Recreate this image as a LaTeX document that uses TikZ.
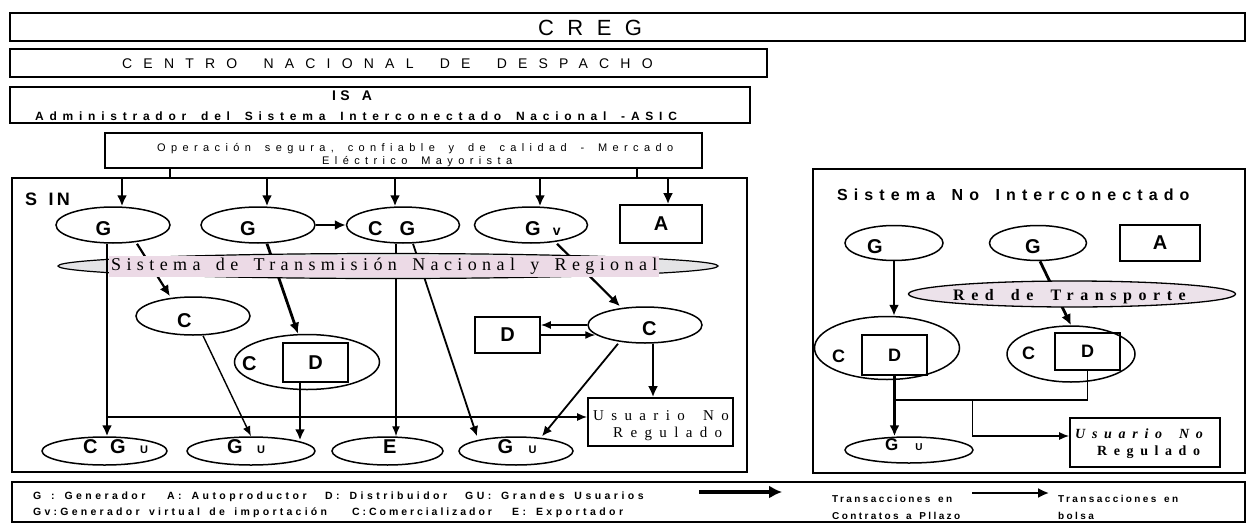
\documentclass[tikz,border=0pt]{standalone}
\usepackage{fontspec}
\setmainfont{Liberation Sans}
\newfontfamily\serifn{Liberation Serif}
\usetikzlibrary{shapes.geometric,arrows.meta,calc}
\definecolor{trpink}{RGB}{236,218,230}
\definecolor{tipgray}{RGB}{228,228,230}
\definecolor{redfill}{RGB}{236,226,234}
\newcommand\lsp[2]{{\addfontfeatures{LetterSpace=#1}\spaceskip=\dimexpr\fontdimen2\font+0.01em*#1\relax #2}}
\newcommand\fz[1]{\fontsize{#1}{#1}\selectfont}
\begin{document}
\begin{tikzpicture}[x=1pt,y=-1pt,
  box/.style={draw,line width=1.7pt,rectangle,inner sep=0pt},
  dbox/.style={box,font=\fz{20}\bfseries},
  ell/.style={draw,line width=1.5pt,ellipse,inner sep=0pt},
  txt/.style={inner sep=0pt,anchor=base west},
  lab/.style={inner sep=0pt,anchor=base west,font=\fz{20}\bfseries},
  lg/.style={inner sep=0pt,anchor=base west,font=\fz{10.5}\bfseries},
  lgr/.style={inner sep=0pt,anchor=base west,font=\fz{10}\bfseries},
  thk/.style={line width=2.8pt,-{Latex[length=11pt,width=10pt]}},
  med/.style={line width=2.2pt,-{Latex[length=11pt,width=10pt]}},
  thn/.style={line width=1.4pt,-{Latex[length=10pt,width=8pt]}},
  thnb/.style={line width=1.8pt,-{Latex[length=10pt,width=9pt]}},
  ln/.style={line width=1.4pt}]
\useasboundingbox (0,0) rectangle (1248,525);
\fill[white] (0,0) rectangle (1248,525);

% ---------- top boxes
\node[box,minimum width=1235pt,minimum height=28pt] (creg) at (627.5,27) {};
\node[txt] (cregt) at (538,35) {\fz{22}\lsp{61}{CREG}};
\node[box,minimum width=757pt,minimum height=28pt] (centro) at (388.5,63) {};
\node[txt] (centrot) at (122,68.5) {\fz{14}\lsp{80}{CENTRO NACIONAL DE DESPACHO}};
\node[box,minimum width=740pt,minimum height=36pt] (isa) at (380,105) {};
\node[txt] (isat) at (332,100) {\fz{14}\bfseries\lsp{30}{IS A}};
\node[txt] (asic) at (35,120) {\fz{12}\bfseries\lsp{48}{Administrador del Sistema Interconectado Nacional -ASIC}};
\node[box,minimum width=597pt,minimum height=35pt] (op) at (403.5,150.5) {};
\node[txt] (op1) at (157,151) {\fz{11}\lsp{49}{Operación segura, confiable y de calidad - Mercado}};
\node[txt] (op2) at (322,164) {\fz{11}\lsp{49}{Eléctrico Mayorista}};

% ---------- SIN
\node[box,minimum width=735pt,minimum height=294pt] (sin) at (379.5,325) {};
\node[txt] (sint) at (25,205) {\fz{18}\bfseries\lsp{18}{S IN}};
\coordinate (t1) at ([xshift=-233.5pt]op.south);
\coordinate (t2) at ([xshift=233.5pt]op.south);
\draw[ln] (t1) -- (t1 |- sin.north);
\draw[ln] (t2) -- (t2 |- sin.north);

\node[ell,minimum width=114pt,minimum height=36pt] (g1) at (113,225) {};
\node[ell,minimum width=114pt,minimum height=36pt] (g2) at (258,225) {};
\node[ell,minimum width=113pt,minimum height=36pt] (cg) at (403,225) {};
\node[ell,minimum width=113pt,minimum height=36pt] (gv) at (531,225) {};
\node[dbox,minimum width=82pt,minimum height=38pt] (a1) at (661,224) {A};
\node[lab] (g1l) at (95.5,235) {G};
\node[lab] (g2l) at (240,235) {G};
\node[lab] (cgl) at (368,235) {C\hspace{17pt}G};
\node[lab] (gvl) at (525,235) {G\hspace{12pt}{\fz{14}v}};

\foreach \n/\dx in {g1/9,g2/9,cg/-8,gv/9,a1/7}{
  \coordinate (tmp) at ([xshift=\dx pt]\n.north);
  \draw[med] (tmp |- sin.north) -- (tmp);
}

\node[ell,minimum width=114pt,minimum height=38pt] (c1) at (193,316) {};
\node[lab] (c1l) at (177,327) {C};
\node[ell,minimum width=145pt,minimum height=55pt] (cd1) at (307,362) {};
\node[lab] (cd1c) at (242,370) {C};
\node[dbox,minimum width=65pt,minimum height=39pt] (d1) at (315.5,362.5) {D};
\node[dbox,minimum width=65pt,minimum height=36pt] (d2) at (507.5,335) {D};
\node[ell,minimum width=114pt,minimum height=36pt] (c2) at (645,325) {};
\node[lab] (c2l) at (642,335) {C};
\node[box,minimum width=145pt,minimum height=48pt] (unr1) at (660.5,422) {};
\node[txt] (unr1a) at (593,420) {\serifn\fz{15}\lsp{49}{Usuario No}};
\node[txt] (unr1b) at (613,437) {\serifn\fz{15}\lsp{49}{Regulado}};

\node[ell,minimum width=125pt,minimum height=28pt] (cgu) at (104.5,451) {};
\node[lab] (cgul) at (83,453) {C\hspace{12.6pt}G\hspace{14.4pt}{\fz{11}U}};
\node[ell,minimum width=128pt,minimum height=28pt] (gu1) at (251,451) {};
\node[lab] (gu1l) at (227,453) {G\hspace{14.4pt}{\fz{11}U}};
\node[ell,minimum width=111pt,minimum height=28pt] (e1) at (387.5,451) {};
\node[lab] (e1l) at (383,453) {E};
\node[ell,minimum width=114pt,minimum height=28pt] (gu2) at (516,451) {};
\node[lab] (gu2l) at (497.5,453) {G\hspace{15.4pt}{\fz{11}U}};

% connectors SIN
\coordinate (v1) at ([xshift=-6pt]g1.south);
\coordinate (h1) at ($(v1 |- unr1.west)+(0,-5)$);
\draw[thn] (h1) -- (h1 -| unr1.west);
\draw[med] ([xshift=24pt]g1.south) -- ([xshift=-23pt]c1.north);
\draw[thk] ([xshift=9pt]g2.south) -- ([xshift=-9pt]cd1.north);
\draw[med] (g2.east) -- (cg.west);
\draw[thn] ([xshift=10pt]c1.south) -- (gu1.north);
\coordinate (v2) at ([xshift=-15.5pt]d1.south);
\coordinate (v2e) at ($(v2 |- gu1.north)+(0,4)$);
\draw[med] (v2) -- (v2e);
\coordinate (v3) at ([xshift=-7pt]cg.south);
\draw[thn] (v3) -- (v3 |- e1.north);
\draw[thnb] ([xshift=10pt]cg.south) -- ([xshift=-39pt]gu2.north);
\draw[med] ([xshift=26pt]gv.south) -- ([xshift=-25pt]c2.north);
\draw[thn] (c2.west) -- (c2.west -| d2.east);
\draw[thn] (d2.east) -- ($(d2.east -| c2.west)+(8,0)$);
\draw[thnb] ([xshift=-27pt]c2.south) -- ([xshift=26pt]gu2.north);
\coordinate (v4) at ([xshift=8pt]c2.south);
\draw[med] (v4) -- (v4 |- unr1.north);

% transmission ellipse
\node[draw,line width=1.2pt,ellipse,fill=tipgray,minimum width=660pt,minimum height=25pt,inner sep=0pt] (tr) at (388,266) {};
\draw[thk] (v1) -- (v1 |- cgu.north);
\node[anchor=west,inner xsep=2pt,inner ysep=0pt,fill=trpink,minimum height=21pt] (trt) at (109,266) {\serifn\fz{18}\lsp{30}{Sistema de Transmisión Nacional y Regional}};

% ---------- Sistema No Interconectado
\node[box,minimum width=432pt,minimum height=304pt] (sni) at (1029,321) {};
\node[txt] (snit) at (837,200) {\fz{16}\bfseries\lsp{38}{Sistema No Interconectado}};
\node[ell,minimum width=98pt,minimum height=35pt] (gL) at (894,243) {};
\node[lab] (gLl) at (867,253) {G};
\node[ell,minimum width=97pt,minimum height=35pt] (gR) at (1038,243) {};
\node[lab] (gRl) at (1025,253) {G};
\node[dbox,minimum width=80pt,minimum height=36pt] (aR) at (1160,243) {A};
\node[ell,minimum width=145pt,minimum height=63pt] (cdL) at (887,348) {};
\node[lab,font=\fz{18}\bfseries] (cdLc) at (832,362) {C};
\node[box,font=\fz{18}\bfseries,minimum width=65pt,minimum height=40pt] (dL) at (894.5,355) {D};
\node[ell,minimum width=128pt,minimum height=56pt] (cdR) at (1071,354) {};
\node[lab,font=\fz{18}\bfseries] (cdRc) at (1022,359) {C};
\node[box,font=\fz{18}\bfseries,minimum width=65pt,minimum height=37pt] (dR) at (1087.5,351.5) {D};
\node[ell,minimum width=128pt,minimum height=26pt] (guR) at (909,450) {};
\node[lab,font=\fz{17}\bfseries] (guRl) at (885,450) {G\hspace{17pt}{\fz{10}U}};
\node[box,minimum width=150pt,minimum height=49pt] (unr2) at (1145,442.5) {};
\node[txt] (unr2a) at (1075,438) {\serifn\fz{14}\bfseries\itshape\lsp{48}{Usuario No}};
\node[txt] (unr2b) at (1097,455) {\serifn\fz{14}\bfseries\lsp{47}{Regulado}};

\draw[thk] ([xshift=2pt]gR.south) -- (cdR.north);
\node[draw,line width=1.3pt,ellipse,fill=redfill,minimum width=327pt,minimum height=26pt,inner sep=0pt] (red) at (1072,294) {};
\node[txt] (redt) at (953,300) {\serifn\fz{16}\bfseries\lsp{41}{Red de Transporte}};
\draw[thk] (gL.south) -- (gL.south |- cdL.north);
\draw[thk] (dL.south) -- (dL.south |- guR.north);
\coordinate (jL) at ($(dL.south)+(0,24)$);
\draw[ln] (dR.south) |- (jL);
\coordinate (jM) at ($(jL)+(78,0)$);
\draw[thn] (jM) |- ($(unr2.west)+(0,-6.5)$);

% ---------- legend
\node[box,minimum width=1233pt,minimum height=40pt] (leg) at (628.5,502) {};
\node[lg] (l1) at (33,499) {\lsp{33}{G : Generador}};
\node[lg] (l2) at (167,499) {\lsp{33}{A: Autoproductor}};
\node[lg] (l3) at (325,499) {\lsp{33}{D: Distribuidor}};
\node[lg] (l4) at (465,499) {\lsp{33}{GU: Grandes Usuarios}};
\node[lg] (l5) at (33,515) {\lsp{31}{Gv:Generador virtual de importación}};
\node[lg] (l6) at (352,515) {\lsp{28}{C:Comercializador}};
\node[lg] (l7) at (512,515) {\lsp{33}{E: Exportador}};
\coordinate (la1) at ($(leg.west)+(688,-10)$);
\coordinate (la2) at ($(la1)+(83,0)$);
\draw[line width=4.5pt,-{Latex[length=13pt,width=13pt]}] (la1) -- (la2);
\coordinate (lb1) at ($(leg.west)+(961,-9)$);
\coordinate (lb2) at ($(lb1)+(77,0)$);
\draw[line width=2.4pt,-{Latex[length=11pt,width=10pt]}] (lb1) -- (lb2);
\node[lgr] (r1) at (832,502) {\lsp{24}{Transacciones en}};
\node[lgr] (r2) at (832,519) {\lsp{24}{Contratos a Pllazo}};
\node[lgr] (r3) at (1058,502) {\lsp{24}{Transacciones en}};
\node[lgr] (r4) at (1058,519) {\lsp{24}{bolsa}};
\end{tikzpicture}
\end{document}
